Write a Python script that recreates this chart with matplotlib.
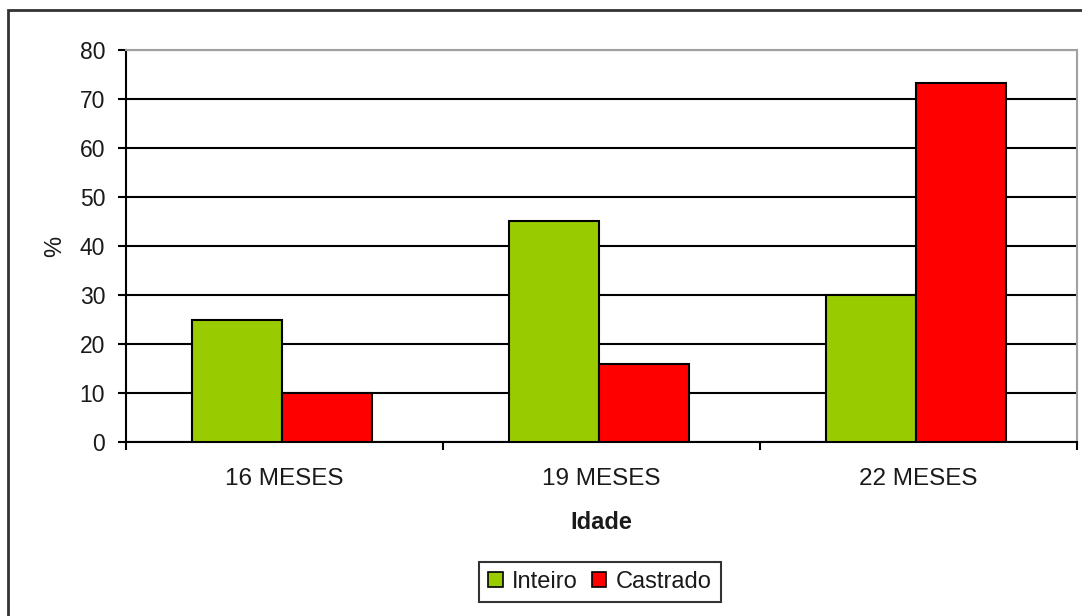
import matplotlib
matplotlib.use("Agg")
import matplotlib.pyplot as plt
from matplotlib.patches import Rectangle
import numpy as np

categories = ["16 MESES", "19 MESES", "22 MESES"]
inteiro = [25, 45, 30]
castrado = [10, 16, 73.2]
series_names = ["Inteiro", "Castrado"]
colors = ["#99CC00", "#FF0000"]
yticks = [0, 10, 20, 30, 40, 50, 60, 70, 80]

plt.rcParams['font.family'] = ['Liberation Sans', 'DejaVu Sans']
txt = "#1a1a1a"

W, H = 1082, 616
fig = plt.figure(figsize=(W / 100, H / 100), dpi=100)
ax = fig.add_axes([126 / W, 1 - 442 / H, (1077 - 126) / W, (442 - 50) / H])

x = np.arange(len(categories))
w = 0.284
off = -0.007
ax.bar(x - w / 2 + off, inteiro, w, color=colors[0], edgecolor="black", linewidth=1.5, label=series_names[0], zorder=3)
ax.bar(x + w / 2 + off, castrado, w, color=colors[1], edgecolor="black", linewidth=1.5, label=series_names[1], zorder=3)

ax.set_xlim(-0.5, len(categories) - 0.5)
ax.set_ylim(0, 80)
ax.set_yticks(yticks)
ax.yaxis.grid(True, color="black", linewidth=1.5, zorder=0)
ax.set_axisbelow(True)

ax.set_xticks(x)
ax.set_xticklabels(categories, fontsize=17.5, color=txt)
ax.set_xticks(np.arange(-0.5, len(categories)), minor=True)
ax.tick_params(axis="x", which="major", length=0, pad=19)
ax.tick_params(axis="x", which="minor", length=6, width=1.5, direction="out")
ax.tick_params(axis="y", length=6, width=1.5, direction="out", pad=9, labelsize=16.5, labelcolor=txt)

for s in ["left", "bottom"]:
    ax.spines[s].set_color("black")
    ax.spines[s].set_linewidth(1.5)
for s in ["top", "right"]:
    ax.spines[s].set_color("#a0a0a0")
    ax.spines[s].set_linewidth(1.5)

ax.set_xlabel("Idade", fontsize=17, fontweight="bold", labelpad=15, color=txt)
ax.set_ylabel("%", fontsize=17, labelpad=10, color=txt)

leg = ax.legend(loc="center", bbox_to_anchor=(600 / W, 1 - 582 / H), bbox_transform=fig.transFigure,
                ncol=2, fontsize=17, frameon=True, fancybox=False, edgecolor="black",
                handlelength=0.6, handleheight=0.6, handletextpad=0.4, columnspacing=0.6,
                borderpad=0.4)
leg.get_frame().set_linewidth(1.5)
for t in leg.get_texts():
    t.set_color(txt)
for p in leg.get_patches():
    p.set_edgecolor("black")
    p.set_linewidth(1.2)

fig.patches.append(Rectangle((8 / W, -0.1), 1.2, 1 - 10 / H + 0.1, transform=fig.transFigure,
                             fill=False, edgecolor="#333333", linewidth=2, zorder=-1))

fig.savefig("out.png", dpi=100)
